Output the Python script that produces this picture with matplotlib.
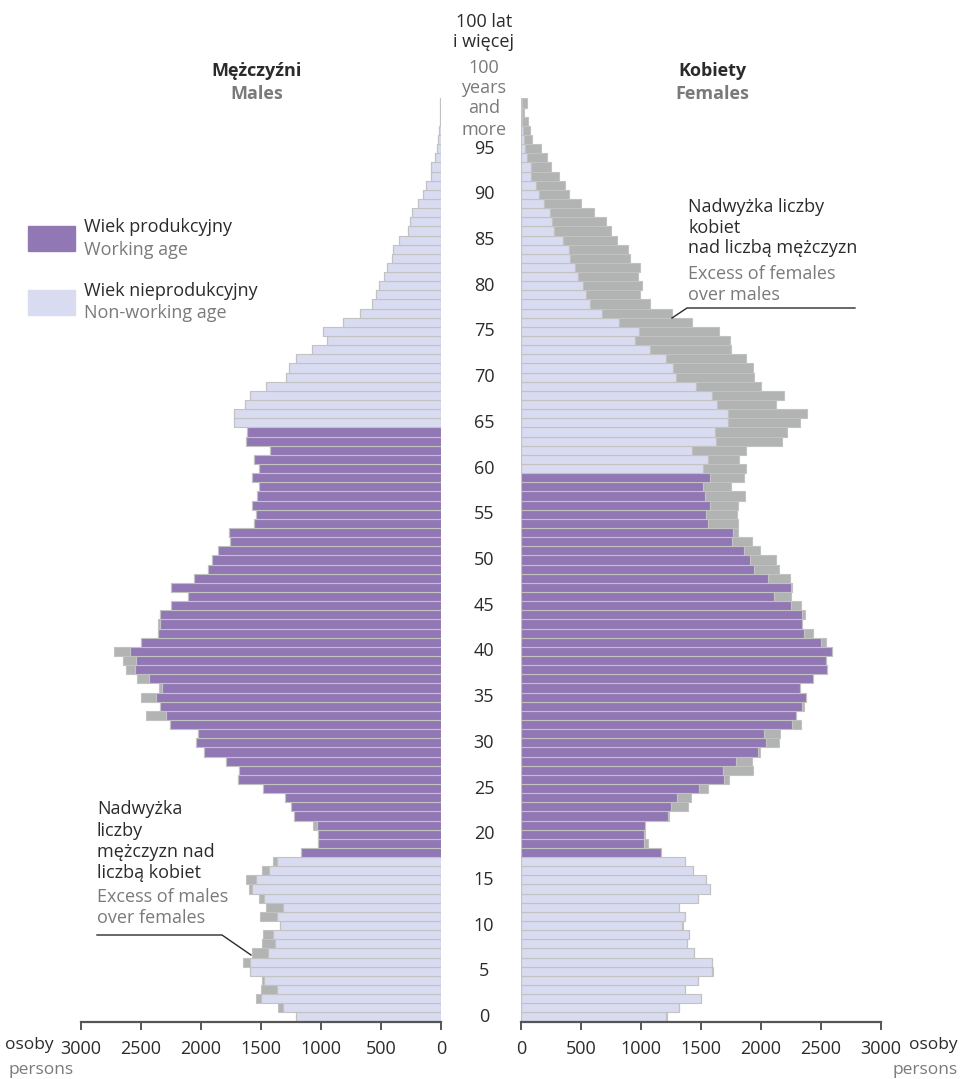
import numpy as np
import matplotlib
matplotlib.use("Agg")
import matplotlib.pyplot as plt
import matplotlib.transforms as mtransforms

plt.rcParams['font.family'] = ['Open Sans', 'DejaVu Sans']

# ages 0..100 (100 = "100 and more")
ages = np.arange(0, 101)

males = [1211, 1361, 1542, 1497, 1489, 1589, 1653, 1578, 1492, 1481,
         1345, 1506, 1461, 1517, 1600, 1628, 1494, 1403, 1169, 1025,
         1022, 1064, 1225, 1253, 1303, 1483, 1694, 1681, 1794, 1975,
         2044, 2025, 2258, 2458, 2339, 2497, 2347, 2531, 2625, 2647,
         2722, 2497, 2358, 2356, 2344, 2250, 2111, 2250, 2058, 1944,
         1906, 1861, 1756, 1767, 1561, 1544, 1578, 1533, 1514, 1578,
         1514, 1556, 1425, 1628, 1614, 1722, 1722, 1631, 1594, 1456,
         1294, 1269, 1211, 1078, 947, 981, 817, 672, 578, 544,
         517, 472, 453, 406, 397, 353, 272, 256, 239, 189,
         153, 128, 86, 86, 53, 36, 22, 19, 12, 8,
         8]

females = [1214, 1319, 1497, 1364, 1472, 1597, 1589, 1444, 1383, 1403,
           1353, 1364, 1319, 1475, 1572, 1542, 1431, 1364, 1164, 1056,
           1031, 1036, 1236, 1389, 1419, 1561, 1736, 1931, 1922, 1992,
           2147, 2156, 2333, 2289, 2361, 2378, 2328, 2436, 2547, 2542,
           2594, 2539, 2436, 2339, 2367, 2333, 2250, 2261, 2242, 2150,
           2125, 1989, 1922, 1806, 1806, 1797, 1811, 1867, 1750, 1858,
           1875, 1817, 1875, 2172, 2214, 2325, 2383, 2122, 2189, 2000,
           1942, 1931, 1872, 1747, 1742, 1647, 1422, 1256, 1078, 989,
           1006, 975, 989, 911, 894, 800, 753, 706, 606, 497,
           397, 364, 314, 253, 217, 164, 94, 78, 61, 28,
           47]

# working age: men 18-64, women 18-59
work_m = (18, 64)
work_f = (18, 59)

xticks = [0, 500, 1000, 1500, 2000, 2500, 3000]
age_labels = list(range(0, 100, 5))

c_work = '#9177b3'
c_nonwork = '#d9dbf0'
c_excess = '#b2b4b3'
c_edge = '#c2c2c2'
c_dark = '#2b2b2b'
c_grey = '#7a7a7a'
fs = 13

W, H = 962, 1079
fig = plt.figure(figsize=(W / 100, H / 100), dpi=100)


def fx(x):
    return x / W


def fy(y):
    return 1 - y / H


ax_bot = 1021.6
ax_top = 98.4
axL = fig.add_axes([fx(81), fy(ax_bot), (441 - 81) / W, (ax_bot - ax_top) / H])
axR = fig.add_axes([fx(521), fy(ax_bot), (881 - 521) / W, (ax_bot - ax_top) / H])

m = np.array(males)
f = np.array(females)
base = np.minimum(m, f)

col_m = [c_work if work_m[0] <= a <= work_m[1] else c_nonwork for a in ages]
col_f = [c_work if work_f[0] <= a <= work_f[1] else c_nonwork for a in ages]

axL.barh(ages, base, height=1.0, color=col_m, edgecolor=c_edge, linewidth=0.8)
axL.barh(ages, np.clip(m - f, 0, None), left=base, height=1.0,
         color=c_excess, edgecolor=c_edge, linewidth=0.8)
axR.barh(ages, base, height=1.0, color=col_f, edgecolor=c_edge, linewidth=0.8)
axR.barh(ages, np.clip(f - m, 0, None), left=base, height=1.0,
         color=c_excess, edgecolor=c_edge, linewidth=0.8)

axL.set_xlim(3000, 0)
axR.set_xlim(0, 3000)
for ax in (axL, axR):
    ax.set_ylim(-0.5, 100.5)
    for s in ('top', 'left', 'right'):
        ax.spines[s].set_visible(False)
    ax.spines['bottom'].set_color('#555555')
    ax.spines['bottom'].set_linewidth(1.6)
    ax.set_yticks([])
    ax.set_xticks(xticks)
    ax.set_xticklabels([str(t) for t in xticks])
    ax.tick_params(axis='x', length=6, width=1.4, color='#555555',
                   labelsize=fs, labelcolor=c_dark, pad=7)

# age labels in the middle
tr = mtransforms.blended_transform_factory(fig.transFigure, axR.transData)
for a in age_labels:
    fig.text(fx(484), a, str(a), transform=tr, ha='center', va='center',
             fontsize=fs, color=c_dark)

fig.text(fx(484), fy(22), '100 lat', ha='center', va='center', fontsize=fs, color=c_dark)
fig.text(fx(484), fy(42), 'i więcej', ha='center', va='center', fontsize=fs, color=c_dark)
for y, t in zip([68, 88, 108, 130], ['100', 'years', 'and', 'more']):
    fig.text(fx(484), fy(y), t, ha='center', va='center', fontsize=fs, color=c_grey)

fig.text(fx(257), fy(71), 'Mężczyźni', ha='center', va='center', fontsize=fs,
         fontweight='bold', color=c_dark)
fig.text(fx(257), fy(94), 'Males', ha='center', va='center', fontsize=fs,
         fontweight='bold', color=c_grey)
fig.text(fx(712), fy(71), 'Kobiety', ha='center', va='center', fontsize=fs,
         fontweight='bold', color=c_dark)
fig.text(fx(712), fy(94), 'Females', ha='center', va='center', fontsize=fs,
         fontweight='bold', color=c_grey)

# legend
fig.patches.append(plt.Rectangle((fx(28), fy(251)), 47 / W, 25 / H, color=c_work,
                                 transform=fig.transFigure))
fig.patches.append(plt.Rectangle((fx(28), fy(315)), 47 / W, 25 / H, color=c_nonwork,
                                 transform=fig.transFigure))
fig.text(fx(84), fy(227), 'Wiek produkcyjny', va='center', fontsize=fs, color=c_dark)
fig.text(fx(84), fy(250), 'Working age', va='center', fontsize=fs, color=c_grey)
fig.text(fx(84), fy(291), 'Wiek nieprodukcyjny', va='center', fontsize=fs, color=c_dark)
fig.text(fx(84), fy(313), 'Non-working age', va='center', fontsize=fs, color=c_grey)

# annotation: excess of females
for y, t in zip([207, 228, 248], ['Nadwyżka liczby', 'kobiet', 'nad liczbą mężczyzn']):
    fig.text(fx(688), fy(y), t, va='center', fontsize=fs, color=c_dark)
for y, t in zip([274, 295], ['Excess of females', 'over males']):
    fig.text(fx(688), fy(y), t, va='center', fontsize=fs, color=c_grey)
fig.add_artist(plt.Line2D([fx(855), fx(687), fx(672)], [fy(308), fy(308), fy(318)],
                          color=c_dark, lw=1.0, transform=fig.transFigure))

# annotation: excess of males
for y, t in zip([809, 831, 852, 873], ['Nadwyżka', 'liczby', 'mężczyzn nad', 'liczbą kobiet']):
    fig.text(fx(97), fy(y), t, va='center', fontsize=fs, color=c_dark)
for y, t in zip([897, 918], ['Excess of males', 'over females']):
    fig.text(fx(97), fy(y), t, va='center', fontsize=fs, color=c_grey)
fig.add_artist(plt.Line2D([fx(97), fx(222), fx(251)], [fy(935), fy(935), fy(955)],
                          color=c_dark, lw=1.0, transform=fig.transFigure))

# units
fig.text(fx(5), fy(1045), 'osoby', va='center', fontsize=12.5, color=c_dark)
fig.text(fx(8), fy(1070), 'persons', va='center', fontsize=12.5, color=c_grey)
fig.text(fx(958), fy(1045), 'osoby', va='center', ha='right', fontsize=12.5, color=c_dark)
fig.text(fx(958), fy(1070), 'persons', va='center', ha='right', fontsize=12.5, color=c_grey)

fig.savefig('out.png', dpi=100)
